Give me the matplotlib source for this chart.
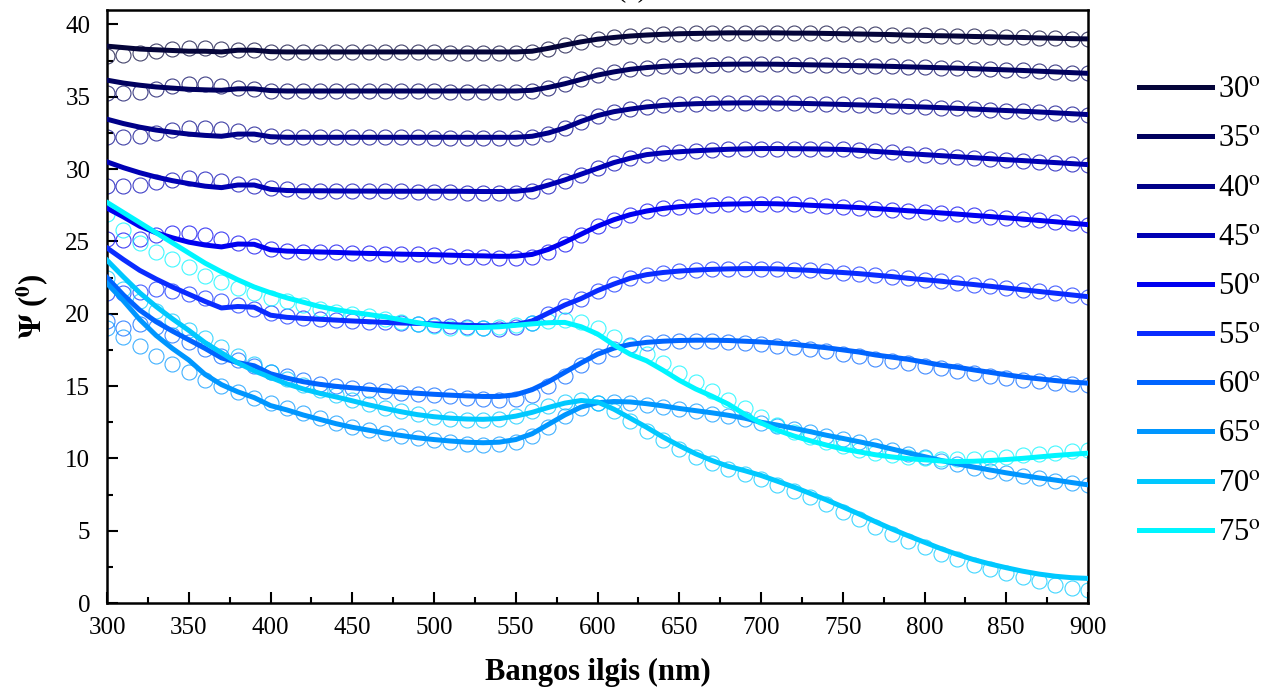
import numpy as np
import matplotlib.pyplot as plt
from matplotlib.ticker import MultipleLocator

plt.rcParams['font.family'] = ['Liberation Serif', 'DejaVu Serif']
plt.rcParams['mathtext.fontset'] = 'stix'

# wavelength grid (nm), 10 nm step
wavelength = np.arange(300, 901, 10)

angles = [30, 35, 40, 45, 50, 55, 60, 65, 70, 75]
colors = ['#05053a', '#00005e', '#000088', '#0000b4', '#0000f0',
          '#0a2cff', '#0064ff', '#0096ff', '#00c8ff', '#00f5ff']

# model (fit) curves
psi30_fit = [38.50, 38.40, 38.30, 38.25, 38.20, 38.15, 38.15, 38.10, 38.22, 38.22,
             38.12, 38.10, 38.10, 38.10, 38.10, 38.10, 38.10, 38.10, 38.10, 38.10,
             38.10, 38.10, 38.10, 38.10, 38.10, 38.10, 38.15, 38.35, 38.58, 38.80,
             38.98, 39.10, 39.20, 39.27, 39.32, 39.36, 39.38, 39.40, 39.42, 39.42,
             39.42, 39.42, 39.40, 39.40, 39.38, 39.36, 39.34, 39.32, 39.30, 39.26,
             39.24, 39.22, 39.20, 39.17, 39.15, 39.12, 39.10, 39.07, 39.05, 39.02,
             39.00]
psi35_fit = [36.15, 35.95, 35.80, 35.68, 35.60, 35.52, 35.48, 35.45, 35.55, 35.55,
             35.43, 35.40, 35.40, 35.40, 35.40, 35.40, 35.40, 35.40, 35.40, 35.40,
             35.40, 35.40, 35.40, 35.40, 35.40, 35.40, 35.45, 35.65, 35.90, 36.20,
             36.50, 36.72, 36.90, 37.02, 37.10, 37.16, 37.20, 37.23, 37.25, 37.26,
             37.26, 37.25, 37.23, 37.21, 37.19, 37.17, 37.15, 37.13, 37.10, 37.07,
             37.04, 37.01, 36.98, 36.94, 36.90, 36.86, 36.82, 36.77, 36.72, 36.67,
             36.62]
psi40_fit = [33.45, 33.15, 32.90, 32.70, 32.55, 32.42, 32.33, 32.27, 32.42, 32.42,
             32.24, 32.20, 32.20, 32.20, 32.20, 32.20, 32.20, 32.20, 32.20, 32.20,
             32.20, 32.20, 32.20, 32.20, 32.20, 32.20, 32.27, 32.50, 32.85, 33.30,
             33.70, 33.97, 34.15, 34.30, 34.40, 34.47, 34.52, 34.55, 34.57, 34.58,
             34.58, 34.57, 34.55, 34.53, 34.50, 34.47, 34.44, 34.41, 34.37, 34.33,
             34.29, 34.25, 34.20, 34.15, 34.10, 34.05, 34.00, 33.95, 33.89, 33.83,
             33.77]
psi45_fit = [30.50, 30.10, 29.75, 29.45, 29.20, 29.00, 28.82, 28.72, 28.90, 28.90,
             28.60, 28.52, 28.50, 28.50, 28.49, 28.48, 28.48, 28.47, 28.47, 28.47,
             28.47, 28.47, 28.46, 28.45, 28.45, 28.47, 28.58, 28.90, 29.25, 29.65,
             30.05, 30.45, 30.75, 31.00, 31.12, 31.20, 31.27, 31.32, 31.37, 31.40,
             31.42, 31.42, 31.41, 31.40, 31.38, 31.36, 31.30, 31.22, 31.15, 31.07,
             31.00, 30.93, 30.86, 30.79, 30.72, 30.65, 30.59, 30.52, 30.45, 30.38,
             30.31]
psi50_fit = [27.30, 26.70, 26.05, 25.60, 25.25, 24.95, 24.75, 24.62, 24.82, 24.80,
             24.42, 24.33, 24.30, 24.27, 24.24, 24.20, 24.17, 24.15, 24.12, 24.10,
             24.08, 24.05, 24.02, 24.00, 23.97, 23.98, 24.10, 24.45, 24.95, 25.50,
             26.05, 26.50, 26.85, 27.10, 27.28, 27.40, 27.48, 27.54, 27.58, 27.60,
             27.62, 27.60, 27.56, 27.50, 27.45, 27.40, 27.34, 27.27, 27.20, 27.12,
             27.05, 26.97, 26.89, 26.80, 26.72, 26.63, 26.54, 26.45, 26.36, 26.26,
             26.16]
psi55_fit = [24.55, 23.75, 23.00, 22.40, 21.85, 21.35, 20.85, 20.40, 20.50, 20.45,
             19.90, 19.75, 19.68, 19.62, 19.56, 19.50, 19.45, 19.40, 19.36, 19.33,
             19.30, 19.25, 19.20, 19.17, 19.17, 19.25, 19.50, 20.05, 20.60, 21.05,
             21.60, 22.05, 22.45, 22.70, 22.85, 22.95, 23.02, 23.07, 23.10, 23.12,
             23.12, 23.10, 23.05, 23.00, 22.92, 22.85, 22.77, 22.67, 22.57, 22.45,
             22.35, 22.25, 22.13, 22.02, 21.90, 21.78, 21.66, 21.54, 21.42, 21.30,
             21.18]
psi60_fit = [22.50, 21.30, 20.25, 19.45, 18.80, 18.20, 17.60, 16.95, 16.62, 16.40,
             15.85, 15.55, 15.30, 15.12, 14.98, 14.88, 14.78, 14.68, 14.58, 14.50,
             14.43, 14.37, 14.32, 14.28, 14.28, 14.40, 14.75, 15.30, 15.95, 16.60,
             17.20, 17.62, 17.88, 18.02, 18.10, 18.15, 18.17, 18.17, 18.15, 18.10,
             18.05, 17.97, 17.88, 17.77, 17.65, 17.50, 17.35, 17.15, 17.00, 16.85,
             16.65, 16.45, 16.30, 16.12, 15.95, 15.78, 15.62, 15.50, 15.38, 15.28,
             15.20]
psi65_fit = [22.10, 20.90, 19.60, 18.50, 17.60, 16.80, 15.80, 15.10, 14.60, 14.20,
             13.65, 13.35, 13.00, 12.70, 12.40, 12.15, 11.95, 11.75, 11.58, 11.42,
             11.30, 11.20, 11.12, 11.08, 11.12, 11.30, 11.70, 12.35, 13.00, 13.55,
             13.85, 13.93, 13.90, 13.78, 13.63, 13.45, 13.30, 13.15, 12.98, 12.78,
             12.50, 12.30, 12.08, 11.85, 11.60, 11.38, 11.15, 10.92, 10.65, 10.38,
             10.12, 9.86, 9.62, 9.40, 9.20, 9.00, 8.82, 8.65, 8.50, 8.33,
             8.17]
psi70_fit = [23.70, 22.55, 21.45, 20.50, 19.65, 18.85, 18.00, 17.30, 16.60, 16.05,
             15.60, 15.15, 14.80, 14.50, 14.25, 13.98, 13.70, 13.45, 13.22, 13.02,
             12.88, 12.78, 12.72, 12.70, 12.75, 12.92, 13.18, 13.52, 13.82, 14.00,
             13.90, 13.40, 12.78, 12.15, 11.48, 10.88, 10.32, 9.85, 9.45, 9.15,
             8.82, 8.42, 8.02, 7.58, 7.13, 6.65, 6.15, 5.62, 5.12, 4.65,
             4.20, 3.76, 3.36, 3.00, 2.70, 2.44, 2.20, 2.00, 1.85, 1.75,
             1.70]
psi75_fit = [27.70, 27.00, 26.30, 25.60, 24.90, 24.20, 23.50, 22.90, 22.35, 21.85,
             21.45, 21.10, 20.80, 20.50, 20.28, 20.10, 19.95, 19.78, 19.58, 19.38,
             19.20, 19.10, 19.05, 19.05, 19.10, 19.20, 19.30, 19.38, 19.40, 19.10,
             18.60, 17.85, 17.20, 16.75, 16.10, 15.40, 14.80, 14.30, 13.75, 13.05,
             12.45, 11.95, 11.55, 11.22, 10.92, 10.65, 10.45, 10.25, 10.10, 9.98,
             9.90, 9.82, 9.78, 9.80, 9.85, 9.92, 10.00, 10.10, 10.20, 10.28,
             10.36]

# measured points (open circles)
psi30_exp = [37.85, 37.90, 38.00, 38.15, 38.28, 38.35, 38.35, 38.30, 38.25, 38.20,
             38.12, 38.10, 38.10, 38.10, 38.10, 38.10, 38.10, 38.10, 38.10, 38.10,
             38.08, 38.06, 38.05, 38.04, 38.04, 38.06, 38.12, 38.32, 38.56, 38.80,
             38.98, 39.10, 39.20, 39.27, 39.32, 39.36, 39.38, 39.40, 39.42, 39.42,
             39.42, 39.42, 39.40, 39.40, 39.38, 39.36, 39.34, 39.32, 39.30, 39.26,
             39.24, 39.22, 39.20, 39.17, 39.15, 39.12, 39.10, 39.07, 39.05, 39.02,
             39.00]
psi35_exp = [35.25, 35.25, 35.35, 35.55, 35.75, 35.85, 35.85, 35.75, 35.62, 35.52,
             35.43, 35.40, 35.40, 35.40, 35.40, 35.40, 35.40, 35.40, 35.40, 35.40,
             35.38, 35.36, 35.35, 35.34, 35.34, 35.36, 35.42, 35.62, 35.88, 36.20,
             36.50, 36.72, 36.90, 37.02, 37.10, 37.16, 37.20, 37.23, 37.25, 37.26,
             37.26, 37.25, 37.23, 37.21, 37.19, 37.17, 37.15, 37.13, 37.10, 37.07,
             37.04, 37.01, 36.98, 36.94, 36.90, 36.86, 36.82, 36.77, 36.72, 36.67,
             36.62]
psi40_exp = [32.25, 32.20, 32.30, 32.50, 32.70, 32.85, 32.85, 32.75, 32.60, 32.45,
             32.30, 32.22, 32.20, 32.20, 32.20, 32.20, 32.20, 32.20, 32.20, 32.20,
             32.18, 32.16, 32.14, 32.12, 32.12, 32.15, 32.22, 32.45, 32.82, 33.28,
             33.70, 33.97, 34.15, 34.30, 34.40, 34.47, 34.52, 34.55, 34.57, 34.58,
             34.58, 34.57, 34.55, 34.53, 34.50, 34.47, 34.44, 34.41, 34.37, 34.33,
             34.29, 34.25, 34.20, 34.15, 34.10, 34.05, 34.00, 33.95, 33.89, 33.83,
             33.77]
psi45_exp = [28.80, 28.80, 28.90, 29.10, 29.25, 29.35, 29.30, 29.15, 29.00, 28.85,
             28.70, 28.60, 28.52, 28.50, 28.49, 28.48, 28.48, 28.47, 28.47, 28.45,
             28.43, 28.40, 28.37, 28.35, 28.33, 28.35, 28.48, 28.82, 29.20, 29.62,
             30.05, 30.45, 30.75, 31.00, 31.12, 31.20, 31.27, 31.32, 31.37, 31.40,
             31.42, 31.42, 31.41, 31.40, 31.38, 31.36, 31.30, 31.22, 31.15, 31.07,
             31.00, 30.93, 30.86, 30.79, 30.72, 30.65, 30.59, 30.52, 30.45, 30.38,
             30.31]
psi50_exp = [25.20, 25.10, 25.20, 25.45, 25.60, 25.60, 25.45, 25.20, 24.90, 24.65,
             24.45, 24.35, 24.30, 24.27, 24.24, 24.20, 24.17, 24.15, 24.12, 24.10,
             24.05, 24.00, 23.95, 23.90, 23.85, 23.85, 23.95, 24.30, 24.85, 25.45,
             26.05, 26.50, 26.85, 27.10, 27.28, 27.40, 27.48, 27.54, 27.58, 27.60,
             27.62, 27.60, 27.56, 27.50, 27.45, 27.40, 27.34, 27.27, 27.20, 27.12,
             27.05, 26.97, 26.89, 26.80, 26.72, 26.63, 26.54, 26.45, 26.36, 26.26,
             26.16]
psi55_exp = [21.40, 21.40, 21.50, 21.70, 21.60, 21.35, 21.10, 20.85, 20.60, 20.30,
             20.05, 19.85, 19.70, 19.62, 19.56, 19.50, 19.45, 19.40, 19.36, 19.30,
             19.20, 19.15, 19.05, 19.00, 18.95, 19.05, 19.35, 19.95, 20.55, 21.05,
             21.60, 22.05, 22.45, 22.70, 22.85, 22.95, 23.02, 23.07, 23.10, 23.12,
             23.12, 23.10, 23.05, 23.00, 22.92, 22.85, 22.77, 22.67, 22.57, 22.45,
             22.35, 22.25, 22.13, 22.02, 21.90, 21.78, 21.66, 21.54, 21.42, 21.30,
             21.18]
psi60_exp = [19.50, 19.00, 19.30, 19.05, 18.55, 18.05, 17.55, 17.10, 16.80, 16.40,
             16.00, 15.70, 15.40, 15.15, 14.98, 14.85, 14.75, 14.65, 14.55, 14.47,
             14.40, 14.30, 14.20, 14.10, 14.05, 14.10, 14.40, 15.00, 15.70, 16.45,
             17.10, 17.55, 17.85, 18.00, 18.08, 18.12, 18.12, 18.10, 18.05, 17.98,
             17.90, 17.80, 17.68, 17.55, 17.40, 17.25, 17.08, 16.90, 16.73, 16.57,
             16.40, 16.22, 16.05, 15.88, 15.72, 15.57, 15.43, 15.32, 15.22, 15.12,
             15.05]
psi65_exp = [19.00, 18.40, 17.80, 17.10, 16.50, 15.95, 15.45, 15.00, 14.60, 14.20,
             13.85, 13.50, 13.15, 12.80, 12.45, 12.20, 11.95, 11.75, 11.55, 11.40,
             11.25, 11.10, 11.00, 10.95, 10.98, 11.15, 11.55, 12.20, 12.90, 13.50,
             13.80, 13.90, 13.85, 13.72, 13.58, 13.42, 13.25, 13.08, 12.90, 12.70,
             12.45, 12.25, 12.03, 11.80, 11.55, 11.33, 11.10, 10.87, 10.60, 10.33,
             10.07, 9.82, 9.58, 9.36, 9.16, 8.96, 8.78, 8.61, 8.46, 8.30,
             8.15]
psi70_exp = [22.50, 21.70, 20.90, 20.20, 19.50, 18.90, 18.30, 17.70, 17.10, 16.50,
             16.00, 15.50, 15.10, 14.70, 14.35, 14.05, 13.75, 13.48, 13.25, 13.05,
             12.88, 12.75, 12.68, 12.68, 12.75, 12.95, 13.25, 13.60, 13.90, 14.05,
             13.85, 13.25, 12.55, 11.90, 11.25, 10.65, 10.12, 9.65, 9.28, 8.95,
             8.60, 8.18, 7.75, 7.30, 6.82, 6.32, 5.80, 5.28, 4.78, 4.30,
             3.85, 3.42, 3.02, 2.66, 2.35, 2.06, 1.78, 1.50, 1.25, 1.05,
             0.90]
psi75_exp = [26.90, 25.80, 24.90, 24.30, 23.80, 23.20, 22.60, 22.20, 21.80, 21.40,
             21.10, 20.85, 20.60, 20.35, 20.15, 19.98, 19.82, 19.65, 19.45, 19.28,
             19.12, 19.02, 18.98, 19.00, 19.08, 19.20, 19.35, 19.50, 19.55, 19.40,
             19.00, 18.40, 17.75, 17.20, 16.60, 15.90, 15.25, 14.65, 14.05, 13.45,
             12.85, 12.30, 11.85, 11.45, 11.12, 10.85, 10.60, 10.40, 10.25, 10.12,
             10.02, 9.96, 9.94, 9.96, 10.02, 10.10, 10.20, 10.30, 10.40, 10.48,
             10.55]

fit_curves = [psi30_fit, psi35_fit, psi40_fit, psi45_fit, psi50_fit,
              psi55_fit, psi60_fit, psi65_fit, psi70_fit, psi75_fit]
exp_curves = [psi30_exp, psi35_exp, psi40_exp, psi45_exp, psi50_exp,
              psi55_exp, psi60_exp, psi65_exp, psi70_exp, psi75_exp]

fig = plt.figure(figsize=(12.72, 6.88), dpi=100)
ax = fig.add_axes([107 / 1272, 85 / 688, 981 / 1272, 593 / 688])

# measured points first, fitted lines on top
for ang, col, meas in zip(angles, colors, exp_curves):
    ax.plot(wavelength, meas, linestyle='none', marker='o', markersize=10.8,
            markerfacecolor='none', markeredgecolor=col, markeredgewidth=0.8,
            alpha=0.75, zorder=2)
for ang, col, fit in zip(angles, colors, fit_curves):
    ax.plot(wavelength, fit, color=col, linewidth=3.6,
            label=str(ang) + r'$^{\mathrm{o}}$', zorder=3)

ax.set_xlim(300, 900)
ax.set_ylim(0, 41)
ax.xaxis.set_major_locator(MultipleLocator(50))
ax.xaxis.set_minor_locator(MultipleLocator(25))
ax.yaxis.set_major_locator(MultipleLocator(5))
ax.yaxis.set_minor_locator(MultipleLocator(2.5))
ax.tick_params(which='both', direction='in', labelsize=18, width=1.5)
ax.tick_params(which='major', length=8)
ax.tick_params(axis='x', which='major', pad=10)
ax.tick_params(axis='y', which='major', pad=12)
ax.tick_params(which='minor', length=4.5)
for sp in ax.spines.values():
    sp.set_linewidth(1.8)

ax.set_xlabel('Bangos ilgis (nm)', fontsize=22, fontweight='bold', labelpad=14)
ax.set_ylabel(r'$\mathbf{\Psi}$ ($^{\mathbf{0}}$)', fontsize=22,
              fontweight='bold', labelpad=10)

# panel tag, mostly above the figure edge as in the source
fig.text(632 / 1272, 1.004, '(a)', ha='center', va='baseline', fontsize=20)

fig.legend(loc='upper left', bbox_to_anchor=(1139 / 1272, 612 / 688),
           frameon=False, fontsize=22, handlelength=2.4, handletextpad=0.2,
           labelspacing=0.66, borderpad=0, borderaxespad=0)

fig.savefig('out.png', dpi=100)
